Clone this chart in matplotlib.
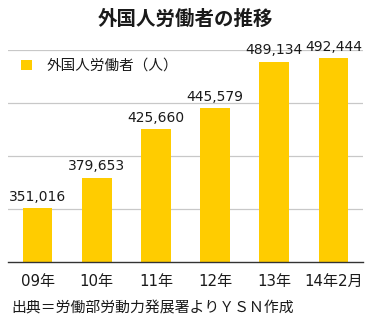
import matplotlib
matplotlib.use("Agg")
import matplotlib.pyplot as plt
from matplotlib.patches import Patch

plt.rcParams['font.family'] = ['Noto Sans CJK JP', 'DejaVu Sans']
latin_first = ['DejaVu Sans', 'Noto Sans CJK JP']

categories = ["09年", "10年", "11年", "12年", "13年", "14年2月"]
workers = [351016, 379653, 425660, 445579, 489134, 492444]
series_name = "外国人労働者（人）"
title = "外国人労働者の推移"
source = "出典＝労働部労動力発展署よりＹＳＮ作成"

bar_color = "#FFCC00"
text_color = "#1a1a1a"

fig = plt.figure(figsize=(3.71, 3.23), dpi=100)
ax = fig.add_axes([8 / 371, 1 - 262 / 323, 355 / 371, 212 / 323])

x = range(len(categories))
ax.bar(x, workers, width=0.5, color=bar_color, zorder=2)
ax.set_xlim(-0.5, len(categories) - 0.5)
ax.set_ylim(300000, 500000)
ax.set_yticks([350000, 400000, 450000, 500000])
ax.yaxis.grid(True, color="#C8C8C8", linewidth=0.9, zorder=0)
ax.tick_params(axis="y", left=False, labelleft=False)
ax.tick_params(axis="x", bottom=False, pad=5, colors=text_color)
ax.set_xticks(list(x))
ax.set_xticklabels(categories, family=latin_first, fontsize=10.8)
for side in ("top", "right", "left"):
    ax.spines[side].set_visible(False)
ax.spines["bottom"].set_color("#333333")
ax.spines["bottom"].set_linewidth(1.0)

for xi, v in zip(x, workers):
    ax.annotate(f"{v:,}", (xi, v), xytext=(0, 3), textcoords="offset points",
                ha="center", va="bottom", fontsize=10, color=text_color,
                family=latin_first, annotation_clip=False)

leg = ax.legend(handles=[Patch(facecolor=bar_color, edgecolor="none")],
                labels=[series_name], loc="upper left",
                bbox_to_anchor=(0.02, 0.985), frameon=False, fontsize=10.5,
                handlelength=0.75, handleheight=0.75, handletextpad=1.0,
                borderaxespad=0.0, labelcolor=text_color)

fig.text(0.5, 1 - 19 / 323, title, ha="center", va="center",
         fontsize=14, fontweight="bold", color=text_color)
fig.text(11 / 371, 1 - 308 / 323, source, ha="left", va="center",
         fontsize=10.7, color=text_color)

fig.savefig("out.png", dpi=100)
